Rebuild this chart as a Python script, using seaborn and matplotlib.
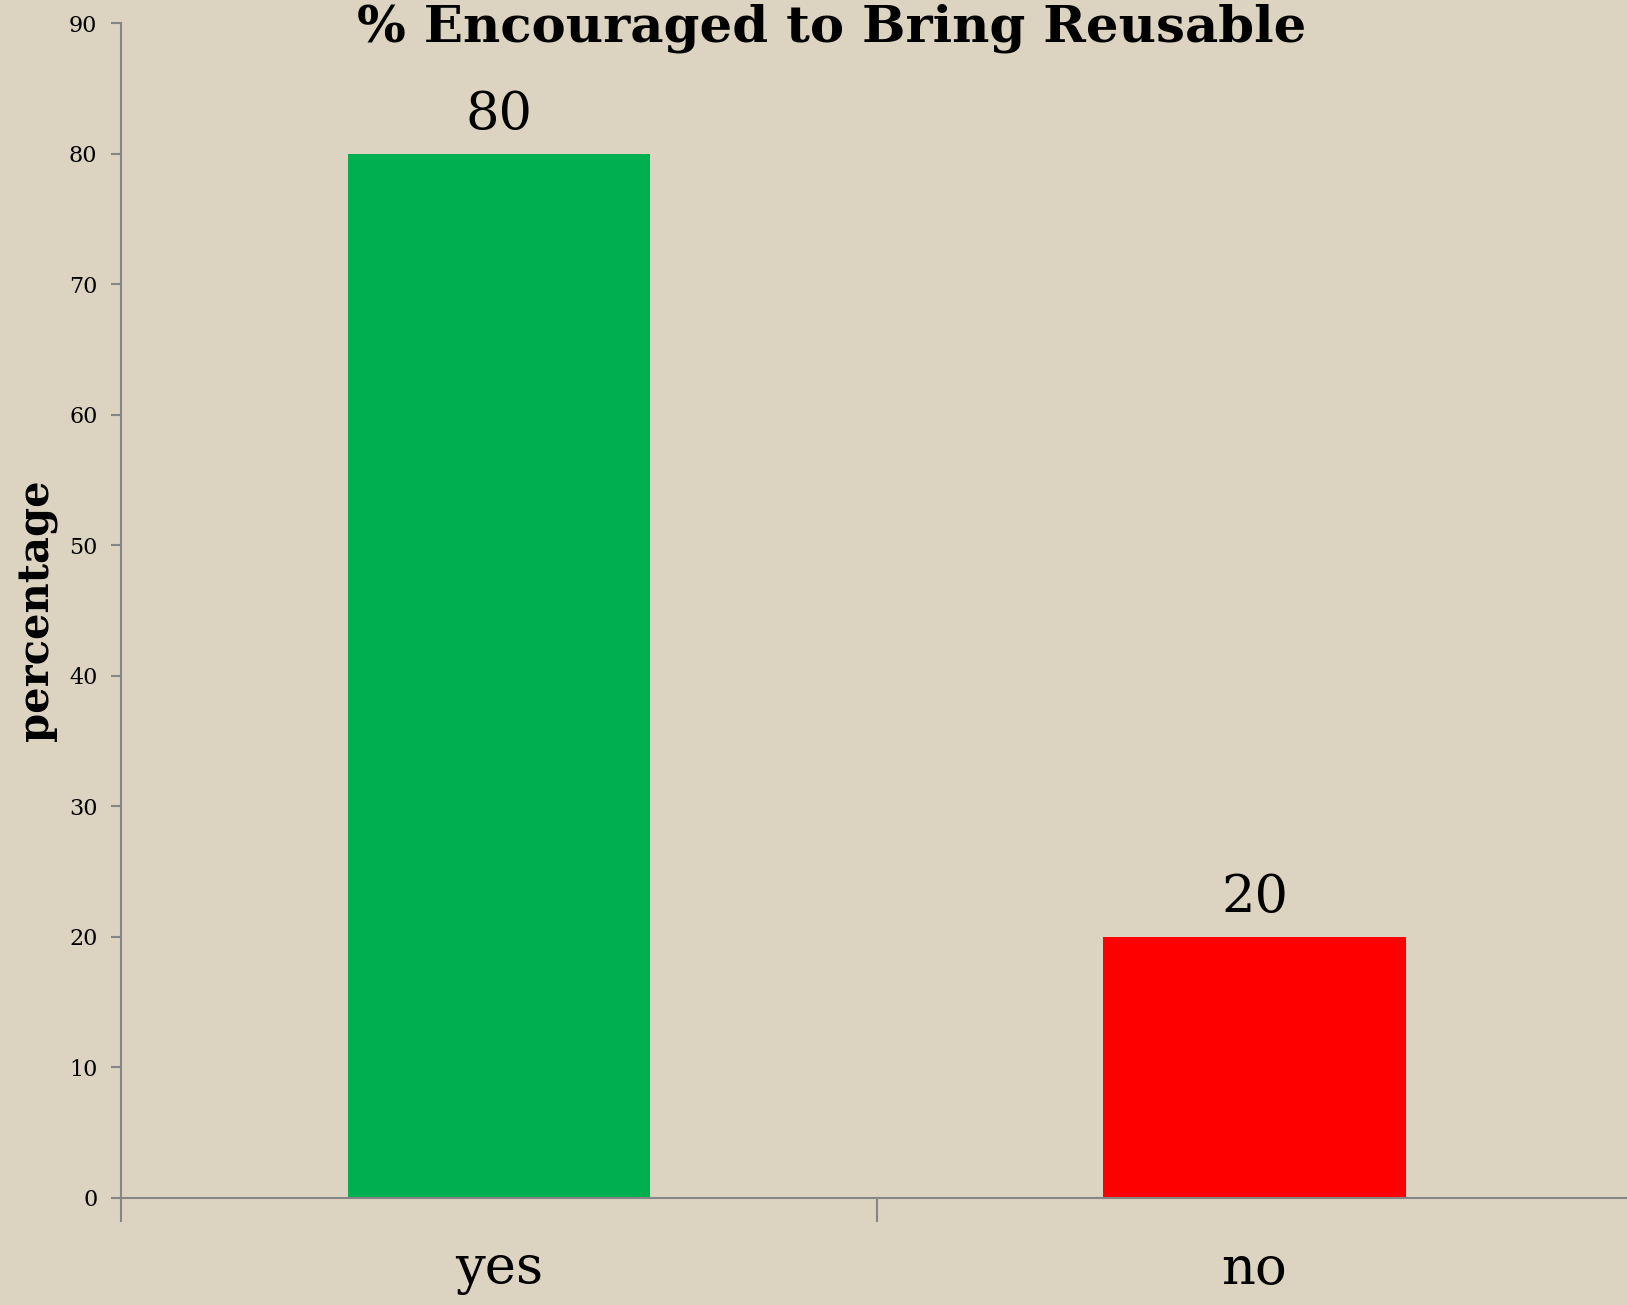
import matplotlib
matplotlib.use("Agg")
import matplotlib.pyplot as plt
import seaborn as sns
import pandas as pd

# data
answers = ["yes", "no"]
percent = [80, 20]
bar_colors = ["#00B050", "#FF0000"]
y_ticks = [0, 10, 20, 30, 40, 50, 60, 70, 80, 90]

df = pd.DataFrame({"answer": answers, "percent": percent})

sns.set_style("ticks")
plt.rcParams["font.family"] = ["DejaVu Serif"]
plt.rcParams["text.color"] = "black"
plt.rcParams["xtick.labelcolor"] = "black"
plt.rcParams["ytick.labelcolor"] = "black"
plt.rcParams["axes.labelcolor"] = "black"

bg = "#DCD3C1"
axis_gray = "#868686"

fig = plt.figure(figsize=(16.27, 13.05), dpi=100, facecolor=bg)
ax = fig.add_axes([121 / 1627, 107 / 1305, 1 - 121 / 1627, (1198 - 23) / 1305])
ax.set_facecolor(bg)

sns.barplot(data=df, x="answer", y="percent", hue="answer",
            palette=bar_colors, width=0.4, legend=False, ax=ax,
            saturation=1, linewidth=0)

ax.set_xlim(-0.5, 1.493)
ax.set_ylim(0, 90)
ax.set_yticks(y_ticks)
ax.set_yticklabels([str(t) for t in y_ticks], fontsize=16)

# category ticks sit on the boundaries, labels in the middle
ax.set_xticks([-0.5, 0.5], minor=False)
ax.set_xticklabels(["", ""])
ax.set_xticks([0, 1], minor=True)
ax.set_xticklabels(answers, minor=True, fontsize=38)
ax.tick_params(axis="x", which="major", length=17, width=1.5, color=axis_gray, direction="out")
ax.tick_params(axis="x", which="minor", length=0, pad=33)
ax.tick_params(axis="y", length=7, width=1.5, color=axis_gray, pad=10)

for s in ["top", "right"]:
    ax.spines[s].set_visible(False)
for s in ["left", "bottom"]:
    ax.spines[s].set_color(axis_gray)
    ax.spines[s].set_linewidth(1.5)

for c in ax.containers:
    ax.bar_label(c, fontsize=38, padding=10)

ax.set_xlabel("")
ax.set_ylabel("percentage", fontsize=30, fontweight="bold")
ax.yaxis.set_label_coords(-0.042, 0.5)

fig.text(832 / 1627, 1 - 28 / 1305, "% Encouraged to Bring Reusable",
         ha="center", va="center", fontsize=37, fontweight="bold")

fig.savefig("out.png", dpi=100, facecolor=bg)
